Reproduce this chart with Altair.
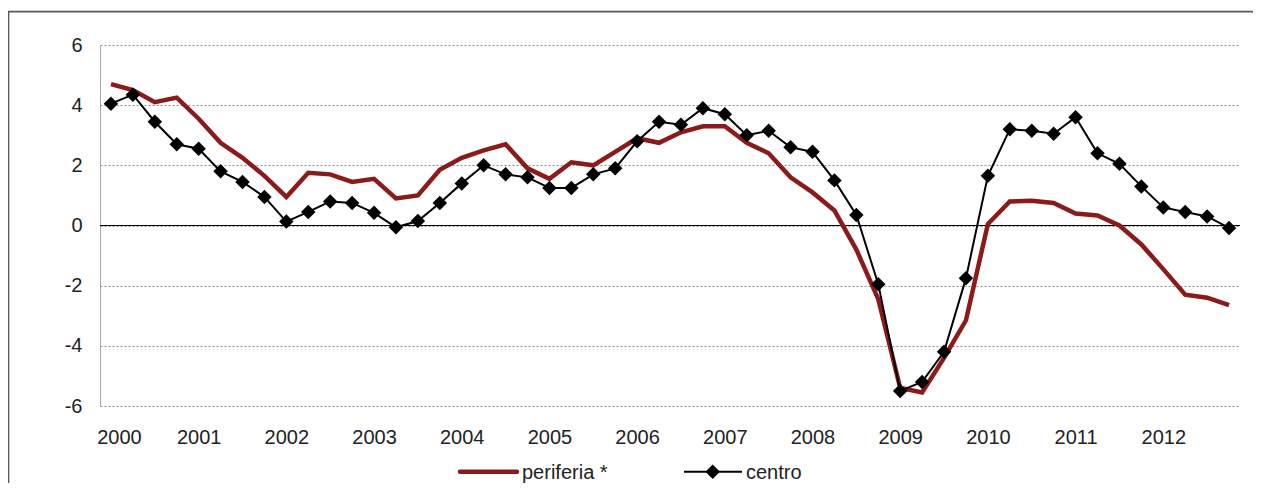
import altair as alt
import pandas as pd

years = list(range(2000, 2013))
quarters = [f"{y}-T{q}" for y in years for q in range(1, 5)]

periferia = [
    4.70, 4.50, 4.10, 4.25,
    3.55, 2.75, 2.25, 1.65,
    0.95, 1.75, 1.70, 1.45,
    1.55, 0.90, 1.00, 1.85,
    2.25, 2.50, 2.70, 1.90,
    1.55, 2.10, 2.00, 2.45,
    2.90, 2.75, 3.10, 3.30,
    3.30, 2.75, 2.40, 1.60,
    1.10, 0.50, -0.80, -2.45,
    -5.40, -5.55, -4.40, -3.15,
    0.05, 0.80, 0.82, 0.75,
    0.40, 0.33, 0.00, -0.63,
    -1.45, -2.30, -2.40, -2.65,
]
centro = [
    4.05, 4.35, 3.45, 2.70,
    2.55, 1.80, 1.45, 0.95,
    0.13, 0.45, 0.80, 0.75,
    0.42, -0.06, 0.15, 0.75,
    1.40, 2.00, 1.70, 1.60,
    1.25, 1.25, 1.70, 1.90,
    2.80, 3.45, 3.35, 3.90,
    3.70, 3.00, 3.15, 2.60,
    2.45, 1.50, 0.35, -1.95,
    -5.50, -5.20, -4.20, -1.75,
    1.65, 3.20, 3.15, 3.05,
    3.60, 2.40, 2.05, 1.30,
    0.60, 0.45, 0.30, -0.08,
]
y_ticks = [-6, -4, -2, 0, 2, 4, 6]
legend_labels = ["periferia *", "centro"]

RED = "#8b1a1a"
FONT = "Liberation Sans"
TXT = "#222222"
DIAMOND = 210

n = len(quarters)
df = pd.DataFrame({
    "t": list(range(n)),
    "quarter": quarters,
    "periferia": periferia,
    "centro": centro,
})

xscale = alt.Scale(domain=[-0.5, n - 0.5], nice=False, zero=False)
yscale = alt.Scale(domain=[y_ticks[0], y_ticks[-1]], nice=False)

xaxis = alt.Axis(
    values=[4 * i for i in range(len(years))],
    labelExpr="'' + (2000 + datum.value / 4)",
    domain=False, ticks=False, grid=False,
    labelPadding=21,
    labelOffset={"condition": {"test": "datum.value == 0", "value": 8}, "value": 0},
)
yaxis = alt.Axis(
    values=y_ticks,
    labelExpr="'' + datum.value",
    grid=True, gridDash=[2, 2], gridColor="#8c8c8c", gridWidth=1,
    domain=True, domainColor="#a8a8a8", domainWidth=1,
    ticks=False, labelPadding=18,
)

base = alt.Chart(df).encode(x=alt.X("t:Q", scale=xscale, axis=xaxis, title=None))

zero = alt.Chart(pd.DataFrame({"y": [0]})).mark_rule(color="black", strokeWidth=1).encode(
    y=alt.Y("y:Q", scale=yscale, axis=yaxis, title=None)
)

per_line = base.mark_line(color=RED, strokeWidth=4.5).encode(
    y=alt.Y("periferia:Q", scale=yscale, title=None)
)
cen_line = base.mark_line(
    color="black", strokeWidth=2,
    point=alt.OverlayMarkDef(shape="diamond", size=DIAMOND, filled=True, color="black"),
).encode(y=alt.Y("centro:Q", scale=yscale, title=None))

# legend (manual)
leg_df = pd.DataFrame({"label": legend_labels})
leg_per_line = alt.Chart(leg_df.iloc[[0]]).mark_rule(color=RED, strokeWidth=4.5, strokeCap="round").encode(
    x=alt.value(360), x2=alt.value(417), y=alt.value(426.7)
)
leg_per_txt = alt.Chart(leg_df.iloc[[0]]).mark_text(
    align="left", baseline="alphabetic", font=FONT, fontSize=20, color=TXT
).encode(x=alt.value(422), y=alt.value(434), text="label:N")
leg_cen_line = alt.Chart(leg_df.iloc[[1]]).mark_rule(color="black", strokeWidth=2).encode(
    x=alt.value(584), x2=alt.value(642), y=alt.value(426.7)
)
leg_cen_pt = alt.Chart(leg_df.iloc[[1]]).mark_point(
    shape="diamond", size=DIAMOND, filled=True, color="black", opacity=1
).encode(x=alt.value(612.7), y=alt.value(426.7))
leg_cen_txt = alt.Chart(leg_df.iloc[[1]]).mark_text(
    align="left", baseline="alphabetic", font=FONT, fontSize=20, color=TXT
).encode(x=alt.value(646), y=alt.value(434), text="label:N")

# outer frame (right and bottom sides fall outside the page)
frame = alt.Chart(leg_df.iloc[[0]]).mark_rect(
    fillOpacity=0, stroke="#5a5a5a", strokeWidth=1.7
).encode(
    x=alt.value(-91.5), x2=alt.value(1250), y=alt.value(-33.3), y2=alt.value(520)
)

chart = alt.layer(
    zero, per_line, cen_line,
    leg_per_line, leg_per_txt, leg_cen_line, leg_cen_pt, leg_cen_txt,
    frame,
).properties(
    width=1140, height=361,
    autosize=alt.AutoSizeParams(type="none"),
    padding={"left": 92, "top": 37, "right": 13, "bottom": 77},
    background="white",
).configure_view(stroke=None).configure_axis(
    labelFont=FONT, labelFontSize=20, labelColor=TXT,
)

chart.save("out.html", embed_options={"renderer": "svg", "actions": False})
